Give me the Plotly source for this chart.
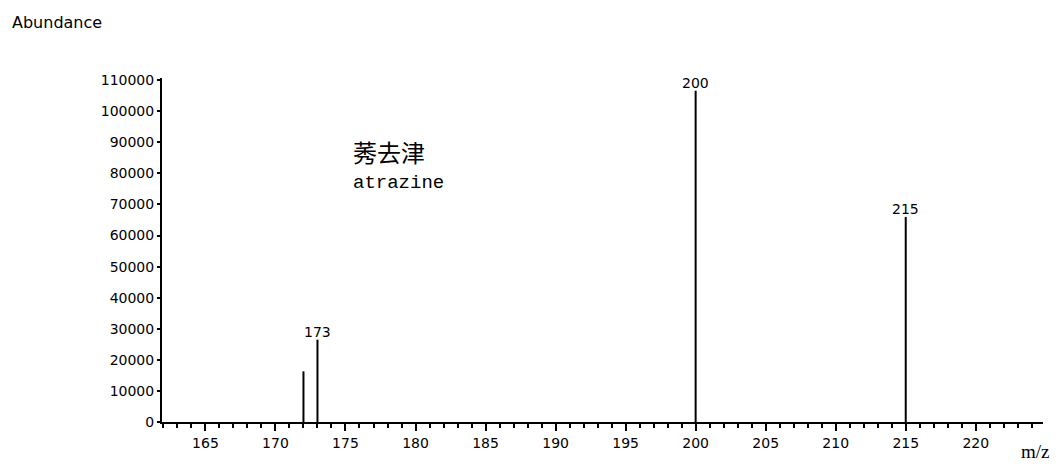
import plotly.graph_objects as go

# mass spectrum of atrazine
mz = [172, 173, 200, 215]
abundance = [16300, 26500, 106600, 66000]
peak_labels = ["", "173", "200", "215"]

y_ticks = list(range(0, 110001, 10000))

xs = []
ys = []
for m, a in zip(mz, abundance):
    xs += [m, m, None]
    ys += [0, a, None]

fig = go.Figure()
fig.add_trace(go.Scatter(x=xs, y=ys, mode="lines",
                         line=dict(color="black", width=2),
                         hoverinfo="skip", showlegend=False))

for m, a, lab in zip(mz, abundance, peak_labels):
    if lab:
        fig.add_annotation(x=m, y=a, text=lab, showarrow=False,
                           yanchor="bottom", yshift=-2,
                           font=dict(family="DejaVu Sans", size=14, color="black"))

fig.add_annotation(x=175.4, y=87000, text="莠去津", showarrow=False,
                   xanchor="left", yanchor="middle",
                   font=dict(family="Noto Sans CJK SC", size=24, color="black"))
fig.add_annotation(x=175.4, y=76800, text="atrazine", showarrow=False,
                   xanchor="left", yanchor="middle",
                   font=dict(family="Liberation Mono", size=19, color="black"))

fig.add_annotation(xref="paper", yref="paper", x=-0.1725, y=1.16,
                   text="Abundance", showarrow=False,
                   xanchor="left", yanchor="middle",
                   font=dict(family="DejaVu Sans", size=16, color="black"))
fig.add_annotation(xref="paper", yref="paper", x=1.0102, y=-0.085,
                   text="m/z", showarrow=False,
                   xanchor="right", yanchor="middle",
                   font=dict(family="Liberation Serif", size=19, color="black"))

# page body adds an 8px offset, so keep the figure inside the window
fig.update_layout(
    width=1046, height=456,
    margin=dict(l=154, r=11, t=70, b=42),
    plot_bgcolor="white", paper_bgcolor="white",
    font=dict(family="DejaVu Sans", size=14, color="black"),
    xaxis=dict(range=[161.9, 224.8], tick0=165, dtick=5,
               showgrid=False, zeroline=False,
               showline=True, linecolor="black", linewidth=2,
               ticks="outside", ticklen=7, tickwidth=2, tickcolor="black",
               minor=dict(dtick=1, ticks="outside", ticklen=4,
                          tickwidth=2, tickcolor="black", showgrid=False)),
    yaxis=dict(range=[0, 110700], tickvals=y_ticks,
               ticktext=[str(v) for v in y_ticks],
               showgrid=False, zeroline=False,
               showline=True, linecolor="black", linewidth=2,
               ticks="outside", ticklen=3, tickwidth=2, tickcolor="black"),
)

fig.write_html("out.html")
